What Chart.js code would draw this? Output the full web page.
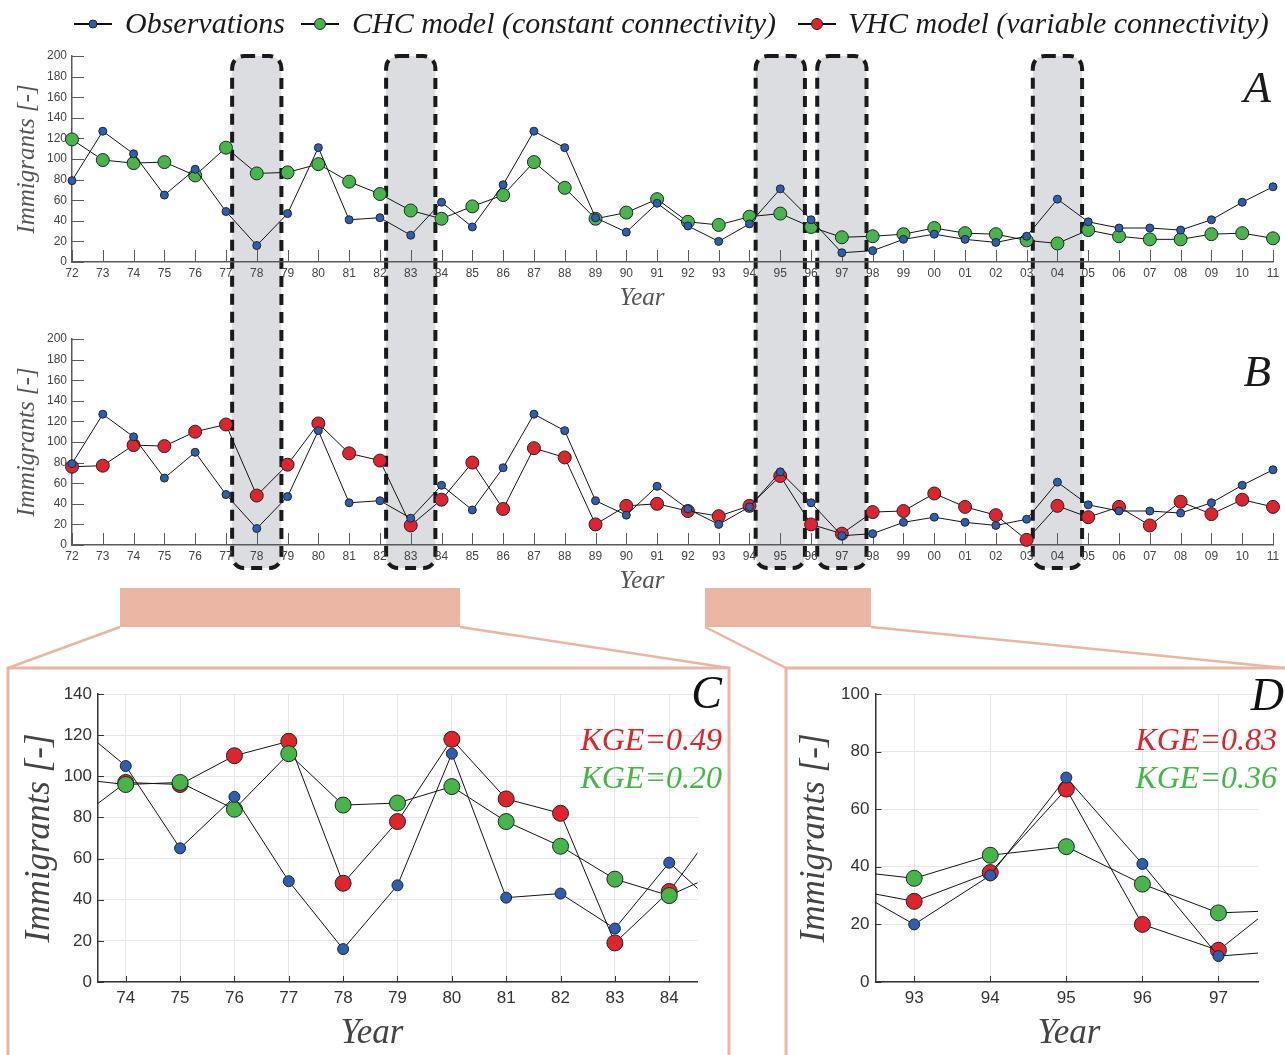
<!DOCTYPE html>
<html>
<head>
<meta charset="utf-8">
<script src="https://cdn.jsdelivr.net/npm/chart.js@4.4.1/dist/chart.umd.min.js"></script>
<style>
  body { margin: 0; background: #fff; }
  #wrap { position: relative; width: 1285px; height: 1055px; overflow: hidden; }
  #wrap canvas, #wrap svg { position: absolute; }
  #back { left: 0; top: 0; z-index: 0; }
  #front { left: 0; top: 0; z-index: 2; pointer-events: none; }
  #wrap canvas { z-index: 1; }
  .serif { font-family: "Liberation Serif", "DejaVu Serif", serif; font-style: italic; }
</style>
</head>
<body>
<div id="wrap">
  <svg id="back" width="1285" height="1055"></svg>
  <canvas id="chart-a" width="1285" height="280" style="left:0;top:40px"></canvas>
  <canvas id="chart-b" width="1285" height="280" style="left:0;top:323px"></canvas>
  <canvas id="chart-c" width="740" height="395" style="left:0;top:660px"></canvas>
  <canvas id="chart-d" width="525" height="395" style="left:760px;top:660px"></canvas>
  <svg id="front" width="1285" height="1055"></svg>
</div>

<script>
// ------------------------------
// DATA
// ------------------------------
const yearLabels = ['72','73','74','75','76','77','78','79','80','81',
                    '82','83','84','85','86','87','88','89','90','91',
                    '92','93','94','95','96','97','98','99','00','01',
                    '02','03','04','05','06','07','08','09','10','11'];

const observations = [79,127,105,65,90,49,16,47,111,41,
                      43,26,58,34,75,127,111,43,29,57,
                      35,20,37,71,41,9,11,22,27,22,
                      19,25,61,39,33,33,31,41,58,73];

const chcModel = [119,99,96,97,84,111,86,87,95,78,
                  66,50,42,54,65,97,72,42,48,61,
                  39,36,44,47,34,24,25,27,33,28,
                  27,21,18,31,25,22,22,27,28,23];

const vhcModel = [76,77,97,96,110,117,48,78,118,89,
                  82,19,44,80,35,94,85,20,38,40,
                  33,28,38,67,20,11,32,33,50,37,
                  29,5,38,27,37,19,42,30,44,37];

const highlightYears = ['78','83','95','97','04'];

// zoom windows (first / last labelled year)
const zoomC = ['74','84'];
const zoomD = ['93','97'];

const kgeC = ['0.49','0.20'];   // VHC, CHC
const kgeD = ['0.83','0.36'];

const legendNames = ['Observations', 'CHC model (constant connectivity)', 'VHC model (variable connectivity)'];

// ------------------------------
// STYLE
// ------------------------------
const BLUE  = '#2c5fb3';
const GREEN = '#46b648';
const RED   = '#e1232c';
const SALMON = '#ebb5a3';

// inner tick marks (drawn into the plot area)
const innerTicks = {
    id: 'innerTicks',
    beforeDatasetsDraw(chart, args, opts) {
        if (!opts || !opts.len) return;
        const { ctx, chartArea: a, scales: { x, y } } = chart;
        ctx.save();
        ctx.strokeStyle = opts.color;
        ctx.lineWidth = 1;
        ctx.beginPath();
        x.ticks.forEach((t, i) => {
            const px = Math.round(x.getPixelForTick(i)) + 0.5;
            ctx.moveTo(px, a.bottom);
            ctx.lineTo(px, a.bottom - opts.len);
        });
        y.ticks.forEach((t, i) => {
            const py = Math.round(y.getPixelForTick(i)) + 0.5;
            ctx.moveTo(a.left, py);
            ctx.lineTo(a.left + opts.len, py);
        });
        ctx.stroke();
        ctx.restore();
    }
};
Chart.register(innerTicks);

function series(label, data, color, r, clip) {
    return {
        label, data, clip,
        borderColor: '#141414',
        borderWidth: 1,
        pointBackgroundColor: color,
        pointBorderColor: '#1f2630',
        pointBorderWidth: 1,
        pointRadius: r,
        pointHoverRadius: r,
        tension: 0
    };
}

function panel(id, cfg) {
    const tickFont  = { family: 'Liberation Sans', size: cfg.tickSize };
    const titleFont = { family: 'Liberation Serif', style: 'italic', size: cfg.titleSize, lineHeight: 1 };
    const x = Object.assign({
        afterFit: s => { s.height = cfg.xHeight; },
        grid: { drawTicks: false, drawOnChartArea: cfg.grid, color: '#e6e6e6' },
        border: { color: cfg.axisColor, width: 1.5 },
        ticks: { padding: cfg.xPad, color: cfg.tickColor, font: tickFont, autoSkip: false, maxRotation: 0 },
        title: { display: false }   // "Year" is written in the overlay, off-centre like the original
    }, cfg.x);
    return new Chart(document.getElementById(id), {
        type: 'line',
        data: cfg.data,
        options: {
            responsive: false,
            animation: false,
            events: [],
            layout: { padding: { top: cfg.padTop, right: cfg.padRight, left: 0, bottom: 0 } },
            plugins: {
                legend: { display: false },
                tooltip: { enabled: false },
                innerTicks: { len: cfg.tickLen, color: cfg.axisColor }
            },
            scales: {
                x,
                y: {
                    min: 0, max: cfg.yMax,
                    afterFit: s => { s.width = cfg.yWidth; },
                    grid: { drawTicks: false, drawOnChartArea: cfg.grid, color: '#e6e6e6' },
                    border: { color: cfg.axisColor, width: 1.5 },
                    ticks: { stepSize: 20, padding: cfg.yPad, color: cfg.tickColor, font: tickFont },
                    title: { display: true, text: 'Immigrants [-]', color: cfg.titleColor, font: titleFont, padding: { top: cfg.yTitlePad, bottom: 0 } }
                }
            }
        }
    });
}

// ------------------------------
// PANELS A + B (full record)
// ------------------------------
const bigCfg = {
    tickSize: 12, titleSize: 25, padTop: 16, padRight: 12, xHeight: 58, yWidth: 72,
    xPad: 4, yPad: 5, yTitlePad: 14.5, yMax: 200, tickLen: 12,
    grid: false, axisColor: '#5a5a5a', tickColor: '#444', titleColor: '#555',
    x: { type: 'category', offset: false }
};

const chartA = panel('chart-a', Object.assign({}, bigCfg, {
    data: { labels: yearLabels, datasets: [
        series(legendNames[0], observations, BLUE, 4, false),
        series(legendNames[1], chcModel, GREEN, 6.5, false)
    ] }
}));

const chartB = panel('chart-b', Object.assign({}, bigCfg, {
    data: { labels: yearLabels, datasets: [
        series(legendNames[0], observations, BLUE, 4, false),
        series(legendNames[2], vhcModel, RED, 6.5, false)
    ] }
}));

// ------------------------------
// PANELS C + D (zooms)
// ------------------------------
function windowPoints(values, first, last) {
    const i0 = yearLabels.indexOf(first) - 1, i1 = yearLabels.indexOf(last) + 1;
    const out = [];
    for (let i = i0; i <= i1; i++) out.push({ x: i, y: values[i] });
    return out;
}

function zoomCfg(win, extra) {
    const i0 = yearLabels.indexOf(win[0]), i1 = yearLabels.indexOf(win[1]);
    return Object.assign({
        tickSize: 17, titleSize: 35, padTop: 34, xHeight: 73,
        xPad: 6, yPad: 6, tickLen: 6,
        grid: true, axisColor: '#333', tickColor: '#333', titleColor: '#444',
        data: { datasets: [
            series(legendNames[0], windowPoints(observations, win[0], win[1]), BLUE, 5.5),
            series(legendNames[1], windowPoints(chcModel, win[0], win[1]), GREEN, 8),
            series(legendNames[2], windowPoints(vhcModel, win[0], win[1]), RED, 8)
        ] },
        x: {
            type: 'linear', min: i0 - 0.51, max: i1 + 0.52,
            ticks: { stepSize: 1, includeBounds: false, padding: 6, color: '#333',
                     font: { family: 'Liberation Sans', size: 17 }, maxRotation: 0,
                     callback: v => yearLabels[v] }
        }
    }, extra);
}

const chartC = panel('chart-c', zoomCfg(zoomC, { padRight: 42.5, yWidth: 98, yTitlePad: 22.5, yMax: 140 }));
const chartD = panel('chart-d', zoomCfg(zoomD, { padRight: 27, yWidth: 115.4, yTitlePad: 37.5, yMax: 100 }));

// ------------------------------
// BACKGROUND DECORATION
// ------------------------------
const back = [];
const xa = chartA.scales.x;
const boxTop = 40 + chartA.chartArea.top;
const boxBottom = 323 + chartB.chartArea.bottom + 23;
highlightYears.forEach(lbl => {
    const i = yearLabels.indexOf(lbl);
    const x0 = xa.getPixelForValue(i - 0.8), x1 = xa.getPixelForValue(i + 0.8);
    back.push(`<rect x="${x0}" y="${boxTop}" width="${x1 - x0}" height="${boxBottom - boxTop}" rx="12" ry="12"
        fill="#dcdde0" stroke="#1a1a1a" stroke-width="4" stroke-dasharray="11 7"/>`);
});

// zoom connectors
back.push(`<rect x="120" y="588" width="340" height="39" fill="${SALMON}"/>`);
back.push(`<rect x="705" y="588" width="166" height="39" fill="${SALMON}"/>`);
back.push(`<g stroke="${SALMON}" stroke-width="2.5" fill="none">
    <line x1="120" y1="627" x2="8" y2="668"/><line x1="460" y1="627" x2="729" y2="668"/>
    <line x1="705" y1="627" x2="786" y2="668"/><line x1="871" y1="627" x2="1285" y2="668"/>
    <rect x="8" y="668" width="721" height="400" stroke-width="3"/>
    <rect x="786" y="668" width="510" height="400" stroke-width="3"/>
  </g>`);
document.getElementById('back').innerHTML = back.join('');

// ------------------------------
// FOREGROUND TEXT (legend, axis titles, panel letters, KGE)
// ------------------------------
const front = [];
const legendItems = [
    { cx: 93,  tx: 125, color: BLUE,  r: 4 },
    { cx: 320, tx: 352, color: GREEN, r: 5.5 },
    { cx: 817, tx: 848, color: RED,   r: 5.5 }
];
legendItems.forEach((it, k) => {
    front.push(`<line x1="${it.cx - 19}" y1="24" x2="${it.cx + 19}" y2="24" stroke="#111" stroke-width="2"/>`);
    front.push(`<circle cx="${it.cx}" cy="24" r="${it.r}" fill="${it.color}" stroke="#1f2630" stroke-width="1"/>`);
    front.push(`<text class="serif" x="${it.tx}" y="33" font-size="30" fill="#1a1a1a">${legendNames[k]}</text>`);
});
const yearTitles = [
    { x: 642,  y: 305,  size: 25, color: '#555' },
    { x: 642,  y: 588,  size: 25, color: '#555' },
    { x: 372,  y: 1043, size: 35, color: '#444' },
    { x: 1069, y: 1043, size: 35, color: '#444' }
];
yearTitles.forEach(t => {
    front.push(`<text class="serif" x="${t.x}" y="${t.y}" font-size="${t.size}" text-anchor="middle" fill="${t.color}">Year</text>`);
});
front.push(`<text class="serif" x="1271" y="102" font-size="45" text-anchor="end" fill="#1a1a1a">A</text>`);
front.push(`<text class="serif" x="1271" y="386" font-size="45" text-anchor="end" fill="#1a1a1a">B</text>`);
front.push(`<text class="serif" x="722" y="708" font-size="46" text-anchor="end" fill="#111">C</text>`);
front.push(`<text class="serif" x="722" y="750" font-size="32" text-anchor="end" fill="${RED}">KGE=${kgeC[0]}</text>`);
front.push(`<text class="serif" x="722" y="788" font-size="32" text-anchor="end" fill="${GREEN}">KGE=${kgeC[1]}</text>`);
front.push(`<text class="serif" x="1284" y="710" font-size="46" text-anchor="end" fill="#111">D</text>`);
front.push(`<text class="serif" x="1277" y="750" font-size="32" text-anchor="end" fill="${RED}">KGE=${kgeD[0]}</text>`);
front.push(`<text class="serif" x="1277" y="788" font-size="32" text-anchor="end" fill="${GREEN}">KGE=${kgeD[1]}</text>`);
document.getElementById('front').innerHTML = front.join('');
</script>
</body>
</html>
